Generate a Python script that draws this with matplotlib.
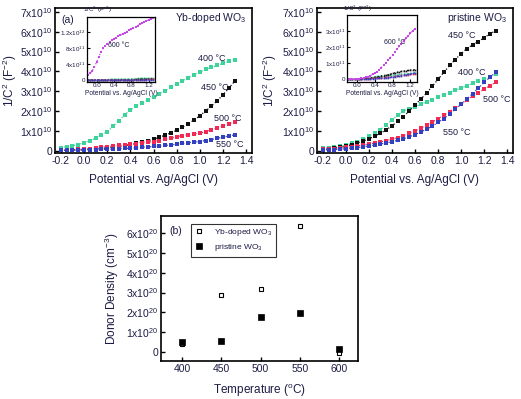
import matplotlib
matplotlib.use("Agg")
import matplotlib.pyplot as plt
import numpy as np

plt.rcParams['font.family'] = ['Liberation Sans', 'DejaVu Sans']
plt.rcParams['mathtext.default'] = 'regular'

# ---------------- data ----------------
potential = [-0.2, -0.15, -0.1, -0.05, 0.0, 0.05, 0.1, 0.15, 0.2, 0.25, 0.3, 0.35, 0.4, 0.45,
             0.5, 0.55, 0.6, 0.65, 0.7, 0.75, 0.8, 0.85, 0.9, 0.95, 1.0, 1.05, 1.1, 1.15,
             1.2, 1.25, 1.3]

# Yb-doped WO3, 1/C^2 in units of 1e10 F^-2
yb_400 = [0.15, 0.2, 0.25, 0.3, 0.4, 0.5, 0.62, 0.78, 0.96, 1.22, 1.52, 1.8, 2.05, 2.25,
          2.42, 2.57, 2.72, 2.88, 3.03, 3.2, 3.38, 3.53, 3.68, 3.83, 3.97, 4.1, 4.2, 4.3,
          4.4, 4.5, 4.58]
yb_450 = [0.02, 0.02, 0.03, 0.04, 0.05, 0.07, 0.09, 0.11, 0.13, 0.16, 0.2, 0.25, 0.3, 0.36,
          0.43, 0.5, 0.58, 0.67, 0.78, 0.9, 1.03, 1.18, 1.35, 1.55, 1.76, 2.0, 2.25, 2.52,
          2.82, 3.15, 3.5]
yb_500 = [0.02, 0.03, 0.04, 0.06, 0.08, 0.1, 0.13, 0.16, 0.2, 0.23, 0.26, 0.29, 0.31, 0.35,
          0.39, 0.42, 0.46, 0.51, 0.57, 0.63, 0.7, 0.76, 0.8, 0.84, 0.88, 0.96, 1.06, 1.16,
          1.26, 1.36, 1.46]
yb_550 = [0.01, 0.01, 0.02, 0.02, 0.03, 0.04, 0.05, 0.06, 0.07, 0.08, 0.1, 0.11, 0.13, 0.15,
          0.17, 0.19, 0.21, 0.23, 0.26, 0.29, 0.32, 0.36, 0.4, 0.43, 0.46, 0.51, 0.56, 0.62,
          0.68, 0.74, 0.79]
# inset, units of 1e11 F^-2
yb_600 = [1.3, 1.7, 2.3, 3.3, 4.5, 5.8, 7.0, 7.9, 8.6, 9.1, 9.5, 9.9, 10.3, 10.6, 10.9,
          11.2, 11.5, 11.8, 12.1, 12.4, 12.7, 13.0, 13.3, 13.6, 13.9, 14.2, 14.5, 14.8,
          15.0, 15.3, 15.5]

# pristine WO3, units of 1e10 F^-2
pr_400 = [0.12, 0.15, 0.18, 0.22, 0.28, 0.36, 0.46, 0.58, 0.72, 0.88, 1.06, 1.3, 1.55, 1.8,
          2.0, 2.12, 2.22, 2.34, 2.46, 2.58, 2.7, 2.82, 2.93, 3.05, 3.16, 3.28, 3.4, 3.52,
          3.63, 3.74, 3.85]
pr_450 = [0.05, 0.08, 0.12, 0.17, 0.22, 0.3, 0.38, 0.48, 0.6, 0.73, 0.88, 1.05, 1.25, 1.48,
          1.72, 2.0, 2.3, 2.6, 2.9, 3.25, 3.6, 3.95, 4.3, 4.6, 4.9, 5.15, 5.35, 5.5,
          5.7, 5.9, 6.05]
pr_500 = [0.06, 0.08, 0.1, 0.13, 0.16, 0.2, 0.24, 0.28, 0.33, 0.38, 0.44, 0.5, 0.57, 0.66,
          0.76, 0.87, 0.99, 1.13, 1.28, 1.44, 1.61, 1.79, 1.97, 2.16, 2.35, 2.55, 2.75, 2.93,
          3.1, 3.28, 3.45]
pr_550 = [0.03, 0.04, 0.05, 0.07, 0.09, 0.12, 0.15, 0.19, 0.23, 0.28, 0.33, 0.39, 0.45, 0.52,
          0.6, 0.7, 0.81, 0.94, 1.08, 1.24, 1.42, 1.62, 1.84, 2.08, 2.34, 2.6, 2.88, 3.16,
          3.44, 3.7, 3.95]
# inset, units of 1e11 F^-2
pr_600 = [0.0, 0.0, 0.01, 0.01, 0.02, 0.03, 0.05, 0.08, 0.12, 0.17, 0.23, 0.3, 0.38, 0.48,
          0.6, 0.73, 0.87, 1.02, 1.18, 1.35, 1.52, 1.7, 1.88, 2.05, 2.2, 2.38, 2.55, 2.7,
          2.85, 3.0, 3.15]

# donor density, units of 1e20 cm^-3
temperature = [400, 450, 500, 550, 600]
nd_yb = [0.4, 2.9, 3.2, 6.35, -0.07]
nd_pristine = [0.5, 0.56, 1.78, 1.95, 0.14]

main_yticks = [0, 1, 2, 3, 4, 5, 6, 7]
main_yticklabels = ['0'] + [f'{v}x10$^{{10}}$' for v in main_yticks[1:]]
xticks = [-0.2, 0.0, 0.2, 0.4, 0.6, 0.8, 1.0, 1.2, 1.4]
inset_xticks = [0.0, 0.4, 0.8, 1.2]
dd_yticks = [0, 1, 2, 3, 4, 5, 6]
dd_yticklabels = ['0'] + [f'{v}x10$^{{20}}$' for v in dd_yticks[1:]]

C_GREEN = '#3fd29a'
C_BLACK = '#111111'
C_RED = '#ee2a55'
C_BLUE = '#3340c0'
C_PURPLE = '#c846e6'
TXT = '#1c1c44'

W, H = 521, 399
fig = plt.figure(figsize=(W / 100, H / 100), dpi=100)


def ax_px(l, t, r, b):
    return fig.add_axes([l / W, 1 - b / H, (r - l) / W, (b - t) / H])


def style_main(ax, ylab_x):
    ax.set_xlim(-0.25, 1.45)
    ax.set_ylim(-0.12, 7.2)
    ax.set_xticks(xticks)
    ax.set_xticklabels([f'{v:.1f}' for v in xticks])
    ax.set_yticks(main_yticks)
    ax.set_yticklabels(main_yticklabels)
    ax.tick_params(direction='in', length=3, width=1, labelsize=7.5, colors='k',
                   labelcolor=TXT, pad=2)
    for s in ax.spines.values():
        s.set_linewidth(1.2)
    ax.set_xlabel('Potential vs. Ag/AgCl (V)', fontsize=8.5, color=TXT, labelpad=6)
    ax.set_ylabel('1/C$^2$ (F$^{-2}$)', fontsize=8.5, color=TXT)
    ax.yaxis.set_label_coords(ylab_x, 0.5)


def plot_series(ax, y, c, ms=2.2):
    ax.plot(potential, y, linestyle=':', color=c, lw=0.9, marker='s', ms=ms,
            mfc=c, mec=c, mew=0)


def style_inset(ax, yl, yticks, ylabels):
    ax.set_xlim(-0.23, 1.35)
    ax.set_ylim(*yl)
    ax.set_xticks(inset_xticks)
    ax.set_xticklabels([f'{v:.1f}' for v in inset_xticks])
    ax.set_yticks(yticks)
    ax.set_yticklabels(ylabels)
    ax.tick_params(direction='in', length=2, width=0.8, labelsize=4.5, pad=1,
                   labelcolor=TXT)
    for s in ax.spines.values():
        s.set_linewidth(0.9)
    ax.set_xlabel('Potential vs. Ag/AgCl (V)', fontsize=4.8, color=TXT, labelpad=1)


# ---------------- panel (a) ----------------
axa = ax_px(55, 8, 252, 153)
plot_series(axa, yb_400, C_GREEN)
plot_series(axa, yb_450, C_BLACK)
plot_series(axa, yb_500, C_RED)
plot_series(axa, yb_550, C_BLUE)
style_main(axa, -0.185)
axa.text(0.98, 4.67, '400 °C', fontsize=6.5, color=TXT, va='center')
axa.text(1.01, 3.2, '450 °C', fontsize=6.5, color=TXT, va='center')
axa.text(1.12, 1.64, '500 °C', fontsize=6.5, color=TXT, va='center')
axa.text(1.14, 0.29, '550 °C', fontsize=6.5, color=TXT, va='center')
axa.text(0.97, 0.93, 'Yb-doped WO$_3$', transform=axa.transAxes, ha='right', va='center',
         fontsize=7.5, color=TXT)
axa.text(0.03, 0.92, '(a)', transform=axa.transAxes, ha='left', va='center',
         fontsize=7.5, color=TXT)

insa = ax_px(86.7, 17, 155, 82)
plot_series(insa, [v * 0.1 for v in yb_400], C_GREEN, ms=1.2)
plot_series(insa, [v * 0.1 for v in yb_450], C_BLACK, ms=1.2)
plot_series(insa, [v * 0.1 for v in yb_500], C_RED, ms=1.2)
plot_series(insa, [v * 0.1 for v in yb_550], C_BLUE, ms=1.2)
plot_series(insa, yb_600, C_PURPLE, ms=1.6)
style_inset(insa, (-0.5, 15.75), [0, 4, 8, 12],
            ['0', '4x10$^{11}$', '8x10$^{11}$', '1.2x10$^{12}$'])
insa.text(0.27, 8.6, '600 °C', fontsize=5, color=TXT, va='center')
insa.text(-0.05, 1.03, '1/C$^2$ (F$^{-2}$)', transform=insa.transAxes, fontsize=4.5,
          color=TXT, va='bottom')

# ---------------- panel (b) top ----------------
axb = ax_px(317, 8, 513, 153)
plot_series(axb, pr_400, C_GREEN)
plot_series(axb, pr_450, C_BLACK)
plot_series(axb, pr_500, C_RED)
plot_series(axb, pr_550, C_BLUE)
style_main(axb, -0.195)
axb.text(0.89, 5.8, '450 °C', fontsize=6.5, color=TXT, va='center')
axb.text(0.97, 3.96, '400 °C', fontsize=6.5, color=TXT, va='center')
axb.text(1.19, 2.6, '500 °C', fontsize=6.5, color=TXT, va='center')
axb.text(0.84, 0.89, '550 °C', fontsize=6.5, color=TXT, va='center')
axb.text(0.97, 0.93, 'pristine WO$_3$', transform=axb.transAxes, ha='right', va='center',
         fontsize=7.5, color=TXT)

insb = ax_px(346.7, 15, 417, 82)
plot_series(insb, [v * 0.1 for v in pr_400], C_GREEN, ms=1.2)
plot_series(insb, [v * 0.1 for v in pr_450], C_BLACK, ms=1.2)
plot_series(insb, [v * 0.1 for v in pr_500], C_RED, ms=1.2)
plot_series(insb, [v * 0.1 for v in pr_550], C_BLUE, ms=1.2)
plot_series(insb, pr_600, C_PURPLE, ms=1.6)
style_inset(insb, (-0.17, 4.0), [0, 1, 2, 3],
            ['0', '1x10$^{11}$', '2x10$^{11}$', '3x10$^{11}$'])
insb.text(0.6, 2.3, '600 °C', fontsize=5, color=TXT, va='center')
insb.text(-0.05, 1.02, '1/C$^2$ (F$^{-2}$)', transform=insb.transAxes, fontsize=4.5,
          color=TXT, va='bottom')

# ---------------- panel (b) donor density ----------------
axc = ax_px(161, 216, 358, 361)
axc.plot(temperature, nd_yb, linestyle='none', marker='s', ms=3.2, mfc='white',
         mec='k', mew=0.8, label='Yb-doped WO$_3$')
axc.plot(temperature, nd_pristine, linestyle='none', marker='s', ms=4.0, mfc='k',
         mec='k', mew=0.5, label='pristine WO$_3$')
axc.set_xlim(373, 624)
axc.set_ylim(-0.47, 6.88)
axc.set_xticks(temperature)
axc.set_yticks(dd_yticks)
axc.set_yticklabels(dd_yticklabels)
axc.tick_params(direction='in', length=3, width=1, labelsize=7.5, labelcolor=TXT, pad=2)
for s in axc.spines.values():
    s.set_linewidth(1.2)
axc.set_xlabel('Temperature ($^o$C)', fontsize=8.5, color=TXT, labelpad=6)
axc.set_ylabel('Donor Density (cm$^{-3}$)', fontsize=8.5, color=TXT)
axc.yaxis.set_label_coords(-0.205, 0.5)
axc.text(0.04, 0.9, '(b)', transform=axc.transAxes, fontsize=7.5, color=TXT, va='center')
leg = axc.legend(loc='upper left', bbox_to_anchor=(0.13, 0.975), fontsize=6,
                 frameon=True, fancybox=False, edgecolor='k', handlelength=1.2,
                 handletextpad=1.2, borderpad=0.4, labelspacing=0.5)
leg.get_frame().set_linewidth(0.8)
for t in leg.get_texts():
    t.set_color(TXT)

fig.savefig('out.png', dpi=100)
